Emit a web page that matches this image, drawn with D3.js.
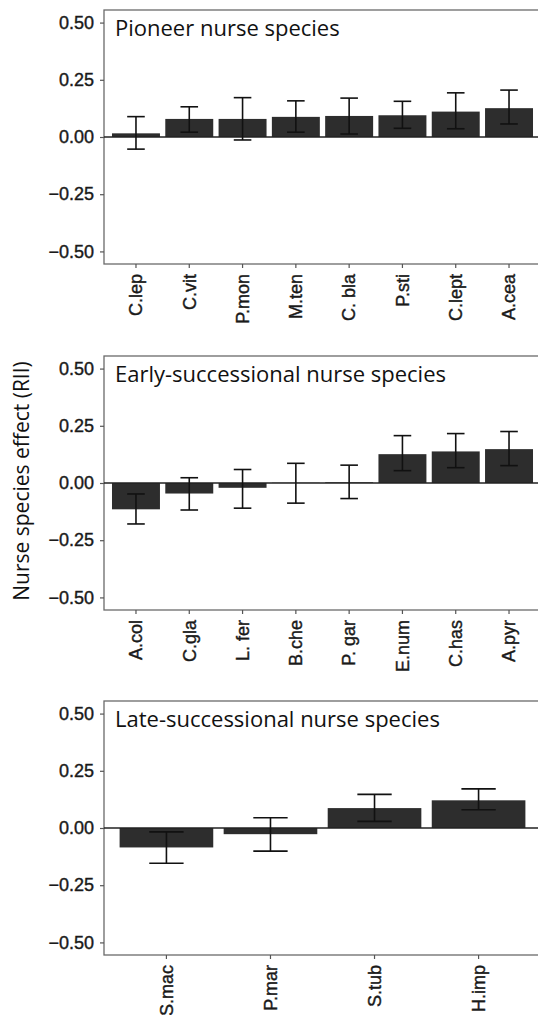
<!DOCTYPE html>
<html>
<head>
<meta charset="utf-8">
<script src="https://cdn.jsdelivr.net/npm/d3@7"></script>
<style>
  body { margin: 0; background: #fff; }
  svg { display: block; }
  .tick text { font-family: "Liberation Sans", Arial, sans-serif; font-size: 18px; fill: #1a1a1a; stroke: #1a1a1a; stroke-width: 0.4px; }
  .titulo { font-family: "Open Sans", "Noto Sans", sans-serif; font-size: 22px; fill: #111; }
</style>
</head>
<body>
<svg id="grafico"></svg>
<script>
// datos: media y limites del error por especie
var pionerasEspecies = ["C.lep", "C.vit", "P.mon", "M.ten", "C. bla", "P.sti", "C.lept", "A.cea"];
var pionerasMedia    = [0.016, 0.079, 0.079, 0.088, 0.092, 0.095, 0.111, 0.126];
var pionerasInf      = [-0.053, 0.021, -0.013, 0.021, 0.013, 0.038, 0.036, 0.057];
var pionerasSup      = [0.089, 0.132, 0.172, 0.158, 0.170, 0.156, 0.193, 0.205];

var tempranasEspecies = ["A.col", "C.gla", "L. fer", "B.che", "P. gar", "E.num", "C.has", "A.pyr"];
var tempranasMedia    = [-0.115, -0.046, -0.021, 0.001, 0.003, 0.126, 0.138, 0.148];
var tempranasInf      = [-0.179, -0.118, -0.110, -0.088, -0.068, 0.054, 0.067, 0.076];
var tempranasSup      = [-0.048, 0.023, 0.059, 0.086, 0.078, 0.207, 0.216, 0.225];

var tardiasEspecies = ["S.mac", "P.mar", "S.tub", "H.imp"];
var tardiasMedia    = [-0.085, -0.027, 0.087, 0.121];
var tardiasInf      = [-0.154, -0.101, 0.029, 0.080];
var tardiasSup      = [-0.017, 0.045, 0.147, 0.171];

var ticksY = [-0.5, -0.25, 0, 0.25, 0.5];

var paneles = [
  { titulo: "Pioneer nurse species", especies: pionerasEspecies, media: pionerasMedia, inf: pionerasInf, sup: pionerasSup, top: 10 },
  { titulo: "Early-successional nurse species", especies: tempranasEspecies, media: tempranasMedia, inf: tempranasInf, sup: tempranasSup, top: 356 },
  { titulo: "Late-successional nurse species", especies: tardiasEspecies, media: tardiasMedia, inf: tardiasInf, sup: tardiasSup, top: 701 }
];

var svgWidth = 538, svgHeight = 1015;
var izq = 104, der = 541, altoPanel = 254;

var svg = d3.select("#grafico")
    .attr("width", svgWidth)
    .attr("height", svgHeight);

var fmt = d3.format(".2f");

paneles.forEach(function (p) {
  var filas = p.especies.map(function (e, i) {
    return { especie: e, media: p.media[i], inf: p.inf[i], sup: p.sup[i] };
  });

  var xScale = d3.scaleBand()
      .domain(p.especies)
      .range([izq, der])
      .paddingInner(0.1)
      .paddingOuter(0.15);

  var yScale = d3.scaleLinear()
      .domain([-0.555, 0.555])
      .range([p.top + altoPanel, p.top]);

  var g = svg.append("g");

  // borde del panel
  g.append("rect")
      .attr("x", izq)
      .attr("y", p.top)
      .attr("width", der - izq)
      .attr("height", altoPanel)
      .attr("fill", "none")
      .attr("stroke", "#6a6a6a")
      .attr("stroke-width", 1.3);

  // barras
  g.selectAll(".barra")
      .data(filas)
      .enter()
      .append("rect")
      .attr("class", "barra")
      .attr("x", function (d) { return xScale(d.especie); })
      .attr("width", xScale.bandwidth())
      .attr("y", function (d) { return yScale(Math.max(0, d.media)); })
      .attr("height", function (d) { return Math.abs(yScale(d.media) - yScale(0)); })
      .attr("fill", "#2d2d2d");

  // linea del cero
  g.append("line")
      .attr("x1", izq)
      .attr("x2", der)
      .attr("y1", yScale(0))
      .attr("y2", yScale(0))
      .attr("stroke", "#222")
      .attr("stroke-width", 1.3);

  // barras de error
  var paso = xScale.step();
  var cap = paso * 0.165;
  var err = g.selectAll(".error")
      .data(filas)
      .enter()
      .append("g")
      .attr("class", "error")
      .attr("stroke", "#111")
      .attr("stroke-width", 1.6);

  err.append("line")
      .attr("x1", function (d) { return xScale(d.especie) + xScale.bandwidth() / 2; })
      .attr("x2", function (d) { return xScale(d.especie) + xScale.bandwidth() / 2; })
      .attr("y1", function (d) { return yScale(d.inf); })
      .attr("y2", function (d) { return yScale(d.sup); });

  ["inf", "sup"].forEach(function (k) {
    err.append("line")
        .attr("x1", function (d) { return xScale(d.especie) + xScale.bandwidth() / 2 - cap; })
        .attr("x2", function (d) { return xScale(d.especie) + xScale.bandwidth() / 2 + cap; })
        .attr("y1", function (d) { return yScale(d[k]); })
        .attr("y2", function (d) { return yScale(d[k]); });
  });

  // ejes
  var ejeY = d3.axisLeft(yScale)
      .tickValues(ticksY)
      .tickFormat(fmt)
      .tickSize(4)
      .tickPadding(6);

  g.append("g")
      .attr("transform", "translate(" + izq + ",0)")
      .call(ejeY)
      .call(function (s) {
        s.select(".domain").remove();
        s.selectAll(".tick line").attr("stroke", "#555").attr("stroke-width", 1.2);
      });

  var ejeX = d3.axisBottom(xScale)
      .tickSize(4)
      .tickPadding(0);

  g.append("g")
      .attr("transform", "translate(0," + (p.top + altoPanel) + ")")
      .call(ejeX)
      .call(function (s) {
        s.select(".domain").remove();
        s.selectAll(".tick line").attr("stroke", "#555").attr("stroke-width", 1.2);
        s.selectAll(".tick text")
            .attr("transform", "rotate(-90)")
            .attr("text-anchor", "end")
            .attr("x", -10)
            .attr("y", 0)
            .attr("dy", "0.35em");
      });

  g.append("text")
      .attr("class", "titulo")
      .attr("x", 115)
      .attr("y", p.top + 26)
      .text(p.titulo);
});

svg.append("text")
    .attr("class", "titulo")
    .attr("transform", "translate(29,481) rotate(-90)")
    .attr("text-anchor", "middle")
    .style("font-size", "21px")
    .text("Nurse species effect (RII)");
</script>
</body>
</html>
